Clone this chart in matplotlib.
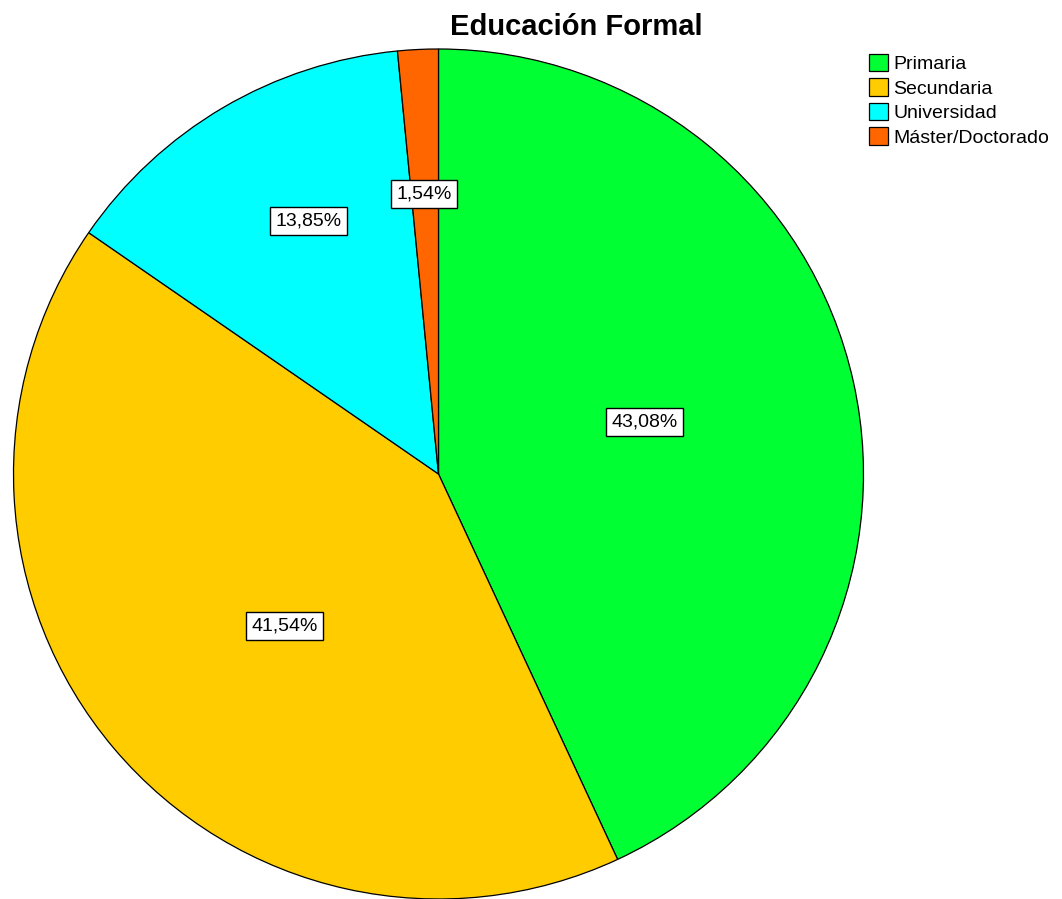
import numpy as np
import matplotlib
matplotlib.use("Agg")
import matplotlib.pyplot as plt

plt.rcParams["font.family"] = ["Liberation Sans", "DejaVu Sans"]

categories = ["Primaria", "Secundaria", "Universidad", "Máster/Doctorado"]
percentages = [43.08, 41.54, 13.85, 1.54]
label_texts = ["43,08%", "41,54%", "13,85%", "1,54%"]
colors = ["#00FF33", "#FFCC00", "#00FFFF", "#FF6600"]
# label placement relative to each wedge (radius fraction, angle shift in degrees)
label_radius = [0.50, 0.51, 0.67, 0.66]
label_shift = [1.8, 4.5, -3.3, 0.2]

fig = plt.figure(figsize=(10.62, 8.99), dpi=100)
ax = fig.add_axes([13.5 / 1062, 0.0, 850 / 1062, 850 / 899])

wedges, _ = ax.pie(percentages, colors=colors, startangle=90, counterclock=False,
                   radius=1.0, wedgeprops=dict(edgecolor="black", linewidth=0.9))
ax.set_xlim(-1, 1)
ax.set_ylim(-1, 1)

for w, txt, r, s in zip(wedges, label_texts, label_radius, label_shift):
    ang = np.deg2rad((w.theta1 + w.theta2) / 2 + s)
    ax.text(r * np.cos(ang), r * np.sin(ang), txt, ha="center", va="center",
            fontsize=14,
            bbox=dict(boxstyle="square,pad=0.28", facecolor="white",
                      edgecolor="black", linewidth=1.0))

fig.text(576 / 1062, 1 - 27 / 899, "Educación Formal", ha="center", va="center",
         fontsize=21, fontweight="bold")

fig.legend(wedges, categories, loc="upper left",
           bbox_to_anchor=(869 / 1062, 1 - 54 / 899), frameon=False,
           fontsize=14, borderpad=0, borderaxespad=0, handlelength=1.0,
           handleheight=1.0, handletextpad=0.25, labelspacing=0.26)

fig.savefig("out.png", dpi=100)
